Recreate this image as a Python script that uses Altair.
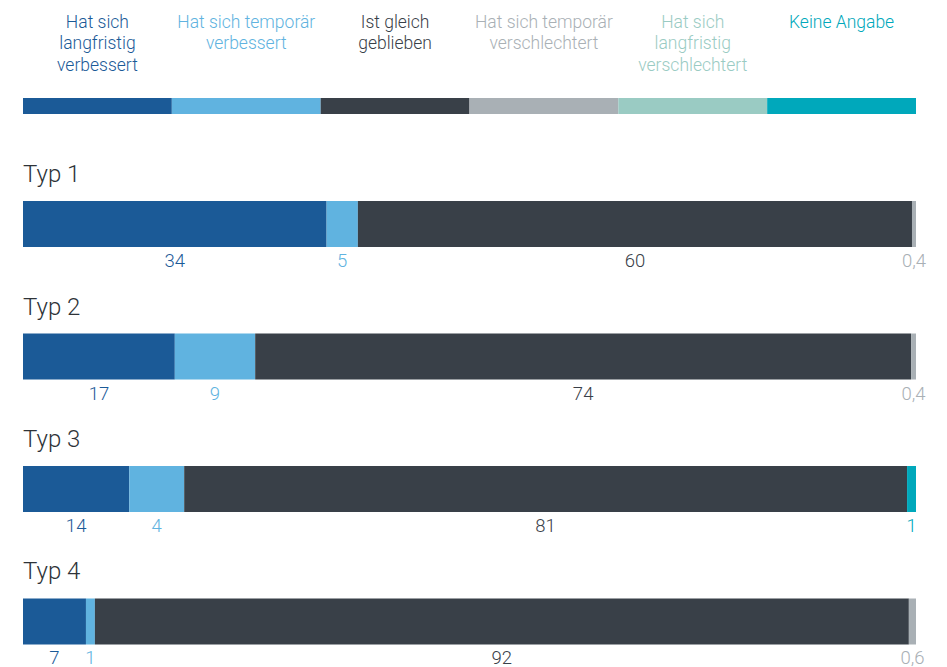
import altair as alt
import pandas as pd

types = ["Typ 1", "Typ 2", "Typ 3", "Typ 4"]

cat_names = [
    "Hat sich langfristig verbessert",
    "Hat sich temporär verbessert",
    "Ist gleich geblieben",
    "Hat sich temporär verschlechtert",
    "Hat sich langfristig verschlechtert",
    "Keine Angabe",
]
cat_display = [
    "Hat sich\nlangfristig\nverbessert",
    "Hat sich temporär\nverbessert",
    "Ist gleich\ngeblieben",
    "Hat sich temporär\nverschlechtert",
    "Hat sich\nlangfristig\nverschlechtert",
    "Keine Angabe",
]
colors = ["#1b5a97", "#60b3e0", "#394048", "#a9b0b5", "#9acbc3", "#00a8bb"]

# segment widths (percent), per type
lang_verb = [34.0, 17.0, 11.9, 7.05]
temp_verb = [3.5, 9.0, 6.15, 1.0]
gleich = [62.05, 73.45, 80.95, 91.15]
temp_versch = [0.45, 0.55, 0.0, 0.8]
lang_versch = [0.0, 0.0, 0.0, 0.0]
keine = [0.0, 0.0, 1.0, 0.0]

# printed value labels
lang_verb_lbl = ["34", "17", "14", "7"]
temp_verb_lbl = ["5", "9", "4", "1"]
gleich_lbl = ["60", "74", "81", "92"]
temp_versch_lbl = ["0,4", "0,4", "", "0,6"]
lang_versch_lbl = ["", "", "", ""]
keine_lbl = ["", "", "1", ""]

series = [lang_verb, temp_verb, gleich, temp_versch, lang_versch, keine]
series_lbl = [lang_verb_lbl, temp_verb_lbl, gleich_lbl, temp_versch_lbl, lang_versch_lbl, keine_lbl]

rows = []
for i, t in enumerate(types):
    for j, c in enumerate(cat_names):
        rows.append({"typ": t, "cat": c, "order": j, "value": series[j][i], "label": series_lbl[j][i]})
df_rows = pd.DataFrame(rows)
df_types = pd.DataFrame({"typ": types})
df_leg = pd.DataFrame({"cat": cat_names, "display": cat_display})

color_scale = alt.Scale(domain=cat_names, range=colors)
FONT = "Roboto"

# ---- legend block ----
leg_x = alt.X("cat:N", sort=cat_names, scale=alt.Scale(paddingInner=0, paddingOuter=0), axis=None)
leg_text = alt.Chart(df_leg).mark_text(
    baseline="alphabetic", align="center", lineBreak="\n", lineHeight=21.5,
    fontSize=17.5, font=FONT, fontWeight=300
).encode(
    x=leg_x, y=alt.value(19.7), text="display:N",
    color=alt.Color("cat:N", scale=color_scale, legend=None),
)
leg_strip = alt.Chart(df_leg).mark_bar().encode(
    x=leg_x, y=alt.value(90), y2=alt.value(106),
    color=alt.Color("cat:N", scale=color_scale, legend=None),
)
legend = (leg_text + leg_strip).properties(width=893, height=106)

# ---- rows ----
y_enc = alt.Y("typ:N", sort=types, scale=alt.Scale(paddingInner=0.6528, paddingOuter=0), axis=None)
stacked = alt.Chart(df_rows).transform_filter("datum.value > 0").transform_stack(
    stack="value", groupby=["typ"], sort=[alt.SortField("order", order="ascending")], as_=["x0", "x1"]
)
bars = stacked.mark_bar().encode(
    x=alt.X("x0:Q", scale=alt.Scale(domain=[0, 100], nice=False, zero=True), axis=None),
    x2="x1:Q",
    y=y_enc,
    color=alt.Color("cat:N", scale=color_scale, legend=None),
)
vals = stacked.transform_filter("datum.label != ''").transform_calculate(
    mid="(datum.x0 + datum.x1) / 2"
).mark_text(
    dy=43, baseline="alphabetic", align="center", fontSize=18.5, font=FONT, fontWeight=300
).encode(
    x=alt.X("mid:Q"),
    y=y_enc,
    text="label:N",
    color=alt.Color("cat:N", scale=color_scale, legend=None),
)
titles = alt.Chart(df_types).mark_text(
    dy=-42, baseline="alphabetic", align="left", fontSize=24, font=FONT,
    fontWeight=300, color="#2e3338"
).encode(
    x=alt.value(0), y=y_enc, text="typ:N"
)
rows_chart = (bars + vals + titles).properties(width=893, height=443.5)

chart = alt.vconcat(legend, rows_chart, spacing=87, bounds="flush").properties(
    padding={"left": 15, "top": 0, "right": 5, "bottom": 0}
).configure_view(stroke=None)

chart.save("out.html", embed_options={"renderer": "svg", "actions": False})
